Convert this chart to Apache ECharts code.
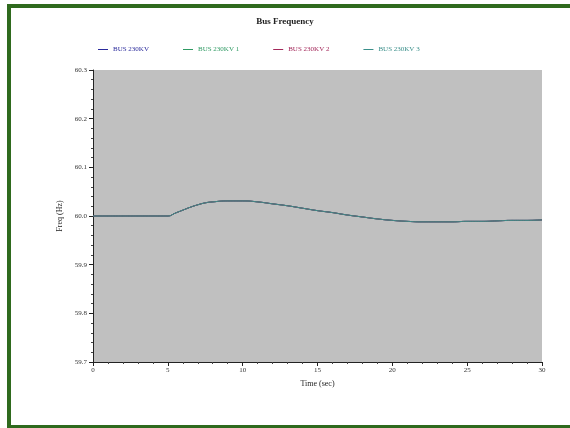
<!DOCTYPE html>
<html>
<head>
<meta charset="utf-8">
<script src="https://cdn.jsdelivr.net/npm/echarts@6/dist/echarts.min.js"></script>
<style>
  html, body { margin: 0; padding: 0; background: #ffffff; }
  #frame {
    position: absolute; left: 7px; top: 4px; width: 580px; height: 417px;
    border-top: 4px solid #2f6a1e; border-left: 4px solid #2f6a1e; border-bottom: 4px solid #2f6a1e;
    box-sizing: content-box;
  }
  #chart { position: absolute; left: 0; top: 0; width: 570px; height: 428px; }
</style>
</head>
<body>
<div id="frame"></div>
<div id="chart"></div>
<script>
// Simulated bus frequency after a disturbance at t = 5 s
const timeSec = [0, 1, 2, 3, 4, 5, 5.5, 6, 6.5, 7, 7.5, 8, 9, 10, 11, 12, 13, 14, 15, 16, 17, 18, 19, 20, 21, 22, 23, 24, 25, 26, 27, 28, 29, 30];
const freqHz  = [60.000, 60.000, 60.000, 60.000, 60.000, 60.000, 60.006, 60.012, 60.018, 60.023, 60.027, 60.029, 60.031, 60.031, 60.029, 60.025, 60.021, 60.016, 60.011, 60.007, 60.002, 59.998, 59.994, 59.991, 59.989, 59.988, 59.988, 59.988, 59.989, 59.989, 59.990, 59.991, 59.991, 59.992];
const busNames = ['BUS 230KV', 'BUS 230KV 1', 'BUS 230KV 2', 'BUS 230KV 3'];
const busColors = ['#2b2b9c', '#2f9a63', '#a3285a', '#3a8f8a'];

const pairs = timeSec.map((t, i) => [t, freqHz[i]]);
const fontFam = 'Liberation Serif';

const chart = echarts.init(document.getElementById('chart'));
chart.setOption({
  animation: false,
  title: {
    text: 'Bus Frequency', left: 'center', top: 12,
    textStyle: { fontFamily: fontFam, fontSize: 9, fontWeight: 'bold', color: '#222' }
  },
  legend: {
    top: 41, left: 93, itemGap: 34, itemWidth: 10, itemHeight: 1,
    icon: 'rect',
    textStyle: { fontFamily: fontFam, fontSize: 7 },
    data: busNames.map((n, i) => ({ name: n, textStyle: { color: busColors[i] } }))
  },
  grid: { left: 93, right: 28, top: 70, bottom: 66, backgroundColor: '#c0c0c0', show: true, borderWidth: 0 },
  xAxis: {
    type: 'value', min: 0, max: 30, interval: 5,
    name: 'Time (sec)', nameLocation: 'middle', nameGap: 18,
    nameTextStyle: { fontFamily: fontFam, fontSize: 8, color: '#222' },
    axisLine: { lineStyle: { color: '#222' } },
    axisTick: { length: 4, lineStyle: { color: '#222' } },
    minorTick: { show: true, splitNumber: 5, length: 2, lineStyle: { color: '#444' } },
    axisLabel: { fontFamily: fontFam, fontSize: 7, color: '#333', margin: 5 },
    splitLine: { show: false }
  },
  yAxis: {
    type: 'value', min: 59.7, max: 60.3, interval: 0.1,
    name: 'Freq (Hz)', nameLocation: 'middle', nameGap: 24, nameRotate: 90,
    nameTextStyle: { fontFamily: fontFam, fontSize: 8, color: '#222' },
    axisLine: { show: true, lineStyle: { color: '#222' } },
    axisTick: { show: true, length: 4, lineStyle: { color: '#222' } },
    minorTick: { show: true, splitNumber: 5, length: 2, lineStyle: { color: '#444' } },
    axisLabel: { fontFamily: fontFam, fontSize: 7, color: '#333', margin: 6, formatter: v => v.toFixed(1) },
    splitLine: { show: false }
  },
  series: busNames.map((n, i) => ({
    name: n, type: 'line', data: pairs, showSymbol: false, smooth: true,
    lineStyle: { width: 1, color: busColors[i] }, itemStyle: { color: busColors[i] }
  }))
});
</script>
</body>
</html>
